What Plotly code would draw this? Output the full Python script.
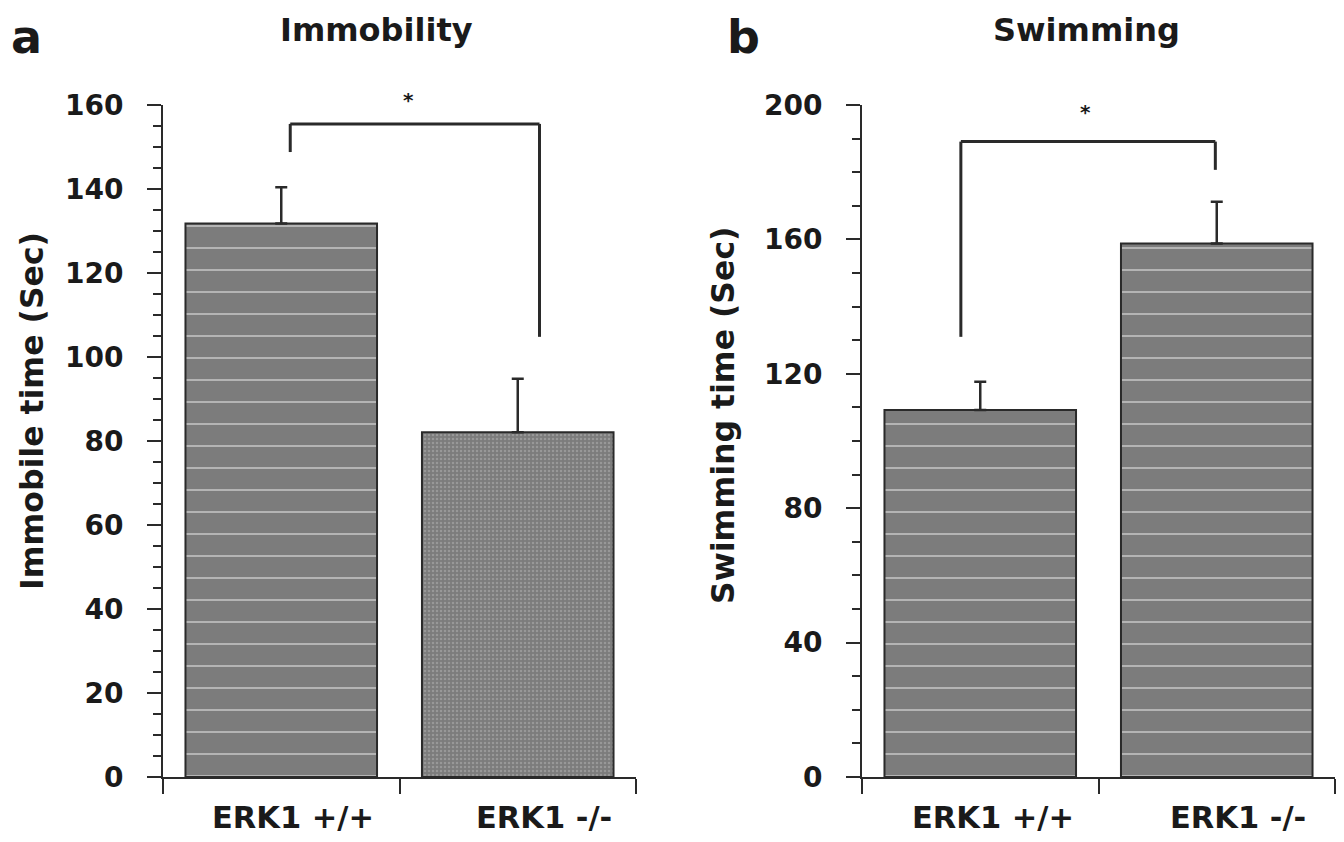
import plotly.graph_objects as go

# ---------------- data ----------------
categories = ["ERK1 +/+", "ERK1 -/-"]

immobile_mean = [131.8, 82.1]
immobile_sem = [8.6, 12.7]

swimming_mean = [109.2, 158.8]
swimming_sem = [8.4, 12.4]

# significance brackets: [y of bar, left leg bottom, right leg bottom]
bracket_a = [155.5, 148.8, 104.8]
bracket_b = [189.1, 131.0, 180.7]

y_ticks_a = [0, 20, 40, 60, 80, 100, 120, 140, 160]
y_ticks_b = [0, 40, 80, 120, 160, 200]

# ---------------- style ----------------
W, H = 1344, 842
OFF = 8  # default body margin of the html page
FW, FH = W - 2 * OFF, H - 2 * OFF
FONT = "DejaVu Sans, Verdana, sans-serif"
TXT = "#1a1a1a"
LINE = "#2a2a2a"
BAR_BG = "#7c7c7c"


def px_x(p):
    return (p - OFF) / FW


def px_y(p):
    return 1 - (p - OFF) / FH


fig = go.Figure()

patterns = dict(
    shape=["-", "."],
    fgcolor=["#b4b4b4", "#989898"],
    bgcolor=BAR_BG,
    size=[22, 4],
    solidity=[0.09, 0.3],
    fillmode="replace",
)
patterns_b = dict(
    shape=["-", "-"],
    fgcolor=["#b4b4b4", "#b4b4b4"],
    bgcolor=BAR_BG,
    size=[22, 22],
    solidity=[0.09, 0.09],
    fillmode="replace",
)

err_style = dict(type="data", symmetric=False, color=LINE, thickness=2.5, width=6)

fig.add_trace(go.Bar(
    x=categories, y=immobile_mean, xaxis="x", yaxis="y",
    marker=dict(color=BAR_BG, line=dict(color=LINE, width=2), pattern=patterns),
    error_y=dict(array=immobile_sem, arrayminus=[0, 0], **err_style),
    showlegend=False, width=0.81,
))
fig.add_trace(go.Bar(
    x=categories, y=swimming_mean, xaxis="x2", yaxis="y2",
    marker=dict(color=BAR_BG, line=dict(color=LINE, width=2), pattern=patterns_b),
    error_y=dict(array=swimming_sem, arrayminus=[0, 0], **err_style),
    showlegend=False, width=0.81,
))

ytickfont = dict(family=FONT, size=28, color=TXT, weight="bold")

xcommon = dict(
    type="category", showline=True, linecolor=LINE, linewidth=2,
    ticks="outside", tickson="boundaries", ticklen=15, tickwidth=2, tickcolor=LINE,
    showticklabels=False, showgrid=False, zeroline=False, fixedrange=True,
    range=[-0.5, 1.5], automargin=False,
)
ycommon = dict(
    showline=True, linecolor=LINE, linewidth=2,
    ticks="outside", ticklen=14, tickwidth=2, tickcolor=LINE,
    tickfont=ytickfont, showgrid=False, zeroline=False, ticklabelstandoff=18,
    automargin=False, fixedrange=True,
)

ydom = [px_y(777), px_y(105)]
fig.update_layout(
    width=FW, height=FH,
    margin=dict(l=0, r=0, t=0, b=0),
    paper_bgcolor="white", plot_bgcolor="white",
    bargap=0.19,
    xaxis=dict(domain=[px_x(163), px_x(636)], anchor="y", **xcommon),
    yaxis=dict(domain=ydom, anchor="x", range=[0, 160], tickvals=y_ticks_a,
               minor=dict(dtick=5, ticklen=8, ticks="outside", tickwidth=2, tickcolor=LINE),
               **ycommon),
    xaxis2=dict(domain=[px_x(862), px_x(1335)], anchor="y2", **xcommon),
    yaxis2=dict(domain=ydom, anchor="x2", range=[0, 200], tickvals=y_ticks_b,
                minor=dict(dtick=10, ticklen=8, ticks="outside", tickwidth=2, tickcolor=LINE),
                **ycommon),
)

# category labels (slightly right of the bar centres, as in the original)
cat_font = dict(family=FONT, size=30.5, color=TXT, weight="bold")
for xref, shifts in (("x", [12, 26]), ("x2", [13, 21])):
    for cat, sh in zip(categories, shifts):
        fig.add_annotation(x=cat, xref=xref, y=px_y(817), yref="paper", text=cat,
                           xshift=sh, showarrow=False, font=cat_font,
                           xanchor="center", yanchor="middle")


# significance brackets
def bracket(xref, yref, xl, xr, b):
    top, lb, rb = b
    pts = [(xl, lb), (xl, top), (xr, top), (xr, rb)]
    for (x0, y0), (x1, y1) in zip(pts[:-1], pts[1:]):
        fig.add_shape(type="line", xref=xref, yref=yref, x0=x0, y0=y0, x1=x1, y1=y1,
                      line=dict(color=LINE, width=3))


bracket("x", "y", 0.038, 1.092, bracket_a)
bracket("x2", "y2", -0.082, 0.994, bracket_b)

star_font = dict(family=FONT, size=20, color=TXT, weight="bold")
fig.add_annotation(x=px_x(408), y=px_y(100), xref="paper", yref="paper", text="*",
                   showarrow=False, font=star_font, xanchor="center", yanchor="middle")
fig.add_annotation(x=px_x(1085), y=px_y(112), xref="paper", yref="paper", text="*",
                   showarrow=False, font=star_font, xanchor="center", yanchor="middle")

# titles
title_font = dict(family=FONT, size=32, color=TXT, weight="bold")
fig.add_annotation(x=px_x(376), y=px_y(30), xref="paper", yref="paper", text="Immobility",
                   showarrow=False, font=title_font, xanchor="center", yanchor="middle")
fig.add_annotation(x=px_x(1086), y=px_y(30), xref="paper", yref="paper", text="Swimming",
                   showarrow=False, font=title_font, xanchor="center", yanchor="middle")

letter_font = dict(family=FONT, size=46, color=TXT, weight="bold")
fig.add_annotation(x=px_x(9), y=1, xref="paper", yref="paper", text="a",
                   showarrow=False, font=letter_font, xanchor="left", yanchor="top")
fig.add_annotation(x=px_x(725), y=1, xref="paper", yref="paper", text="b",
                   showarrow=False, font=letter_font, xanchor="left", yanchor="top")

# y-axis titles
ytitle_font = dict(family=FONT, size=31.5, color=TXT, weight="bold")
fig.add_annotation(x=px_x(32), y=px_y(411), xref="paper", yref="paper",
                   text="Immobile time (Sec)", textangle=-90, showarrow=False,
                   font=ytitle_font, xanchor="center", yanchor="middle")
fig.add_annotation(x=px_x(723), y=px_y(415), xref="paper", yref="paper",
                   text="Swimming time (Sec)", textangle=-90, showarrow=False,
                   font=ytitle_font, xanchor="center", yanchor="middle")

fig.write_html("out.html")
